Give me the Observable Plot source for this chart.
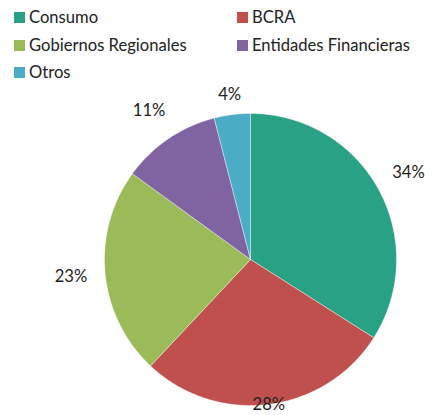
<!DOCTYPE html>
<html>
<head>
<meta charset="utf-8">
<script src="https://cdn.jsdelivr.net/npm/d3@7"></script>
<script src="https://cdn.jsdelivr.net/npm/@observablehq/plot@0.6"></script>
<style>
  html, body { margin: 0; padding: 0; background: #fff; }
  body { width: 432px; height: 415px; overflow: hidden; font-family: Lato, "Open Sans", sans-serif; color: #222; }
  #legend { position: relative; height: 70px; z-index: 1; }
  .item { position: absolute; display: flex; align-items: center; font-size: 16.6px; white-space: nowrap; }
  .sw { width: 11px; height: 11px; margin-right: 4px; }
  #chart svg { display: block; background: none; }
</style>
</head>
<body>
<div id="legend"></div>
<div id="chart"></div>
<script>
const categories = ["Consumo", "BCRA", "Gobiernos Regionales", "Entidades Financieras", "Otros"];
const shares = [34, 28, 23, 11, 4];
const labels = ["34%", "28%", "23%", "11%", "4%"];
const colors = ["#29a184", "#c0504d", "#9bbb59", "#8064a2", "#4bacc6"];

// legend (HTML, above the SVG)
const legendPos = [[14, 17], [237, 17], [14, 45], [237, 45], [14, 72]];
const legend = document.getElementById("legend");
categories.forEach((c, i) => {
  const d = document.createElement("div");
  d.className = "item";
  d.style.left = legendPos[i][0] + "px";
  d.style.top = (legendPos[i][1] - 11) + "px";
  d.style.height = "22px";
  d.innerHTML = `<span class="sw" style="background:${colors[i]}"></span><span>${c}</span>`;
  legend.appendChild(d);
});

// pie geometry built from the data (clockwise from 12 o'clock)
const pie = d3.pie().value(d => d).sort(null)(shares);
const poly = [];
pie.forEach((a, i) => {
  const n = Math.max(4, Math.ceil((a.endAngle - a.startAngle) / 0.01));
  poly.push({cat: categories[i], x: 0, y: 0});
  for (let k = 0; k <= n; k++) {
    const t = a.startAngle + (a.endAngle - a.startAngle) * k / n;
    poly.push({cat: categories[i], x: Math.sin(t), y: Math.cos(t)});
  }
  poly.push({cat: categories[i], x: 0, y: 0});
});

const labelRadius = [1.235, 1.0, 1.235, 1.235, 1.14];
const labelData = pie.map((a, i) => {
  const m = (a.startAngle + a.endAngle) / 2;
  return {label: labels[i], x: labelRadius[i] * Math.sin(m), y: labelRadius[i] * Math.cos(m)};
});

// SVG starts at y=70 in the page; pie centre at page (250, 259), radius 146
const top0 = 70;
const chart = Plot.plot({
  width: 432,
  height: 415 - top0,
  margin: 0,
  x: {domain: [-1, 1], range: [104, 396], axis: null},
  y: {domain: [-1, 1], range: [259 + 146 - top0, 259 - 146 - top0], axis: null},
  color: {domain: categories, range: colors},
  style: {fontFamily: "Lato, 'Open Sans', sans-serif", color: "#222", background: "none"},
  marks: [
    Plot.line(poly, {x: "x", y: "y", z: "cat", fill: "cat", stroke: "white", strokeWidth: 0.4, curve: "linear"}),
    Plot.text(labelData, {x: "x", y: "y", text: "label", fontSize: 16.6, fill: "#222"})
  ]
});
document.getElementById("chart").appendChild(chart);
</script>
</body>
</html>
